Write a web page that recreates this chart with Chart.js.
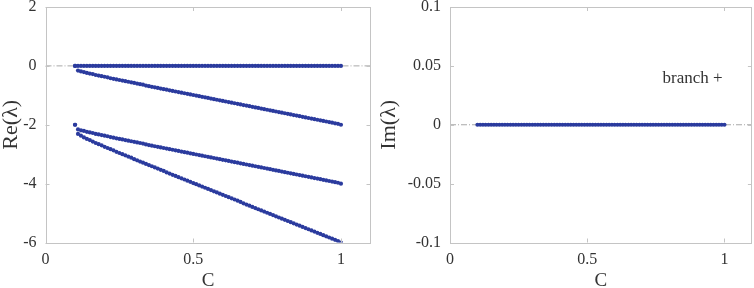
<!DOCTYPE html>
<html>
<head>
<meta charset="utf-8">
<script src="https://cdn.jsdelivr.net/npm/chart.js@4.4.1/dist/chart.umd.min.js"></script>
<style>
  html, body { margin: 0; padding: 0; background: #fff; }
  #wrap { position: relative; width: 754px; height: 288px; overflow: hidden; }
  #cLeft { position: absolute; left: 0; top: 0; }
  #cRight { position: absolute; left: 378px; top: 0; }
</style>
</head>
<body>
<div id="wrap">
  <canvas id="cLeft" width="378" height="288"></canvas>
  <canvas id="cRight" width="376" height="288"></canvas>
</div>
<script>
// ---------------- data ----------------
const C = [0.10,0.11,0.12,0.13,0.14,0.15,0.16,0.17,0.18,0.19,
           0.20,0.21,0.22,0.23,0.24,0.25,0.26,0.27,0.28,0.29,
           0.30,0.31,0.32,0.33,0.34,0.35,0.36,0.37,0.38,0.39,
           0.40,0.41,0.42,0.43,0.44,0.45,0.46,0.47,0.48,0.49,
           0.50,0.51,0.52,0.53,0.54,0.55,0.56,0.57,0.58,0.59,
           0.60,0.61,0.62,0.63,0.64,0.65,0.66,0.67,0.68,0.69,
           0.70,0.71,0.72,0.73,0.74,0.75,0.76,0.77,0.78,0.79,
           0.80,0.81,0.82,0.83,0.84,0.85,0.86,0.87,0.88,0.89,
           0.90,0.91,0.92,0.93,0.94,0.95,0.96,0.97,0.98,0.99,
           1.00];

const reBranchA = [0,0,0,0,0,0,0,0,0,0,
                   0,0,0,0,0,0,0,0,0,0,
                   0,0,0,0,0,0,0,0,0,0,
                   0,0,0,0,0,0,0,0,0,0,
                   0,0,0,0,0,0,0,0,0,0,
                   0,0,0,0,0,0,0,0,0,0,
                   0,0,0,0,0,0,0,0,0,0,
                   0,0,0,0,0,0,0,0,0,0,
                   0,0,0,0,0,0,0,0,0,0,
                   0];

const reBranchB = [0,-0.16,-0.19,-0.21,-0.24,-0.26,-0.28,-0.31,-0.33,-0.35,
                   -0.37,-0.39,-0.42,-0.44,-0.46,-0.48,-0.50,-0.52,-0.54,-0.56,
                   -0.58,-0.60,-0.62,-0.64,-0.67,-0.69,-0.71,-0.73,-0.75,-0.77,
                   -0.79,-0.81,-0.83,-0.85,-0.87,-0.89,-0.91,-0.93,-0.95,-0.97,
                   -0.99,-1.01,-1.03,-1.05,-1.07,-1.09,-1.11,-1.13,-1.15,-1.17,
                   -1.19,-1.21,-1.23,-1.25,-1.27,-1.29,-1.31,-1.33,-1.35,-1.37,
                   -1.39,-1.41,-1.43,-1.45,-1.47,-1.49,-1.51,-1.53,-1.55,-1.57,
                   -1.59,-1.61,-1.63,-1.65,-1.67,-1.69,-1.71,-1.73,-1.75,-1.77,
                   -1.79,-1.81,-1.83,-1.85,-1.87,-1.89,-1.91,-1.93,-1.95,-1.97,
                   -2.00];

const reBranchC = [-2.00,-2.16,-2.19,-2.21,-2.24,-2.26,-2.28,-2.31,-2.33,-2.35,
                   -2.37,-2.39,-2.42,-2.44,-2.46,-2.48,-2.50,-2.52,-2.54,-2.56,
                   -2.58,-2.60,-2.62,-2.64,-2.67,-2.69,-2.71,-2.73,-2.75,-2.77,
                   -2.79,-2.81,-2.83,-2.85,-2.87,-2.89,-2.91,-2.93,-2.95,-2.97,
                   -2.99,-3.01,-3.03,-3.05,-3.07,-3.09,-3.11,-3.13,-3.15,-3.17,
                   -3.19,-3.21,-3.23,-3.25,-3.27,-3.29,-3.31,-3.33,-3.35,-3.37,
                   -3.39,-3.41,-3.43,-3.45,-3.47,-3.49,-3.51,-3.53,-3.55,-3.57,
                   -3.59,-3.61,-3.63,-3.65,-3.67,-3.69,-3.71,-3.73,-3.75,-3.77,
                   -3.79,-3.81,-3.83,-3.85,-3.87,-3.89,-3.91,-3.93,-3.95,-3.97,
                   -4.00];

const reBranchD = [-2.00,-2.31,-2.37,-2.43,-2.48,-2.52,-2.57,-2.62,-2.66,-2.70,
                   -2.75,-2.79,-2.83,-2.87,-2.92,-2.96,-3.00,-3.04,-3.08,-3.12,
                   -3.17,-3.21,-3.25,-3.29,-3.33,-3.37,-3.41,-3.45,-3.49,-3.53,
                   -3.57,-3.62,-3.66,-3.70,-3.74,-3.78,-3.82,-3.86,-3.90,-3.94,
                   -3.98,-4.02,-4.06,-4.10,-4.14,-4.18,-4.22,-4.26,-4.30,-4.34,
                   -4.38,-4.42,-4.46,-4.50,-4.54,-4.58,-4.62,-4.67,-4.71,-4.75,
                   -4.79,-4.83,-4.87,-4.91,-4.95,-4.99,-5.03,-5.07,-5.11,-5.15,
                   -5.19,-5.23,-5.27,-5.31,-5.35,-5.39,-5.43,-5.47,-5.51,-5.55,
                   -5.59,-5.63,-5.67,-5.71,-5.75,-5.79,-5.83,-5.87,-5.91,-5.95,
                   -6.00];

const imBranch = [0,0,0,0,0,0,0,0,0,0,
                  0,0,0,0,0,0,0,0,0,0,
                  0,0,0,0,0,0,0,0,0,0,
                  0,0,0,0,0,0,0,0,0,0,
                  0,0,0,0,0,0,0,0,0,0,
                  0,0,0,0,0,0,0,0,0,0,
                  0,0,0,0,0,0,0,0,0,0,
                  0,0,0,0,0,0,0,0,0,0,
                  0,0,0,0,0,0,0,0,0,0,
                  0];

const xTicks = [0, 0.5, 1];
const reTicks = [-6, -4, -2, 0, 2];
const imTicks = [-0.1, -0.05, 0, 0.05, 0.1];
const zeroLineX = [0, 1.1];
const zeroLineY = [0, 0];
const annotationText = 'branch +';
const annotationPos = { x: 0.884, y: 0.039 };

// ---------------- styles ----------------
const DOT = '#2b3b9e';
const FRAME = '#c4c4c4';
const TEXT = '#333333';
const SERIF = '"Liberation Serif", "DejaVu Serif", serif';

function pts(xs, ys) { return xs.map((x, i) => ({ x: x, y: ys[i] })); }

function dotSet(ys) {
  return {
    data: pts(C, ys), showLine: false, pointRadius: 2.1, pointHoverRadius: 2.1,
    pointBackgroundColor: DOT, pointBorderColor: DOT, pointBorderWidth: 0, order: 1
  };
}
function zeroSet() {
  return {
    data: pts(zeroLineX, zeroLineY), showLine: true, pointRadius: 0,
    borderColor: '#a8a8a8', borderWidth: 1, borderDash: [6, 2, 1, 2], order: 10
  };
}

const boxPlugin = {
  id: 'box',
  afterDraw(chart) {
    const ctx = chart.ctx, a = chart.chartArea;
    const xs = chart.scales.x, ys = chart.scales.y;
    ctx.save();
    ctx.strokeStyle = FRAME; ctx.lineWidth = 1;
    ctx.strokeRect(Math.round(a.left) + 0.5, Math.round(a.top) + 0.5,
                   Math.round(a.right) - Math.round(a.left) - 1, Math.round(a.bottom) - Math.round(a.top));
    const L = 4;
    ctx.beginPath();
    xs.ticks.forEach(t => {
      const px = Math.round(xs.getPixelForValue(t.value)) + 0.5;
      ctx.moveTo(px, a.bottom); ctx.lineTo(px, a.bottom - L);
      ctx.moveTo(px, a.top); ctx.lineTo(px, a.top + L);
    });
    ys.ticks.forEach(t => {
      const py = Math.round(ys.getPixelForValue(t.value)) + 0.5;
      ctx.moveTo(a.left, py); ctx.lineTo(a.left + L, py);
      ctx.moveTo(a.right, py); ctx.lineTo(a.right - L, py);
    });
    ctx.stroke();
    const ann = chart.options.plugins.box && chart.options.plugins.box.text;
    if (ann) {
      ctx.fillStyle = TEXT;
      ctx.font = '17px ' + SERIF;
      ctx.textAlign = 'center'; ctx.textBaseline = 'middle';
      ctx.fillText(ann.label, xs.getPixelForValue(ann.x), ys.getPixelForValue(ann.y));
    }
    ctx.restore();
  }
};

function fmt(v) { return String(v); }

function makeOptions(yTicks, yMin, yMax, yTitle, yWidth, padRight, ann) {
  return {
    responsive: false, animation: false, events: [],
    layout: { padding: { top: 7, right: padRight, left: 0, bottom: 0 } },
    plugins: { legend: { display: false }, tooltip: { enabled: false }, box: { text: ann } },
    scales: {
      x: {
        type: 'linear', min: 0, max: 1.1,
        afterBuildTicks: s => { s.ticks = xTicks.map(v => ({ value: v })); },
        afterFit: s => { s.height = 45.5; s.paddingLeft = 0; s.paddingRight = 0; },
        grid: { display: false, drawTicks: false },
        border: { display: false },
        ticks: { color: TEXT, font: { family: SERIF, size: 16 }, padding: 8, callback: fmt, maxRotation: 0 },
        title: { display: true, text: 'C', color: TEXT, font: { family: SERIF, size: 19, lineHeight: 1 }, padding: { top: 0, bottom: -3 } }
      },
      y: {
        type: 'linear', min: yMin, max: yMax,
        afterBuildTicks: s => { s.ticks = yTicks.map(v => ({ value: v })); },
        afterFit: s => { s.width = yWidth; s.paddingTop = 0; s.paddingBottom = 0; },
        grid: { display: false, drawTicks: false },
        border: { display: false },
        ticks: { color: TEXT, font: { family: SERIF, size: 16 }, padding: 9, callback: fmt },
        title: { display: true, text: yTitle, color: TEXT, font: { family: SERIF, size: 22, lineHeight: 1 }, padding: { top: 0, bottom: 0 } }
      }
    }
  };
}

new Chart(document.getElementById('cLeft'), {
  type: 'scatter',
  data: { datasets: [zeroSet(), dotSet(reBranchA), dotSet(reBranchB), dotSet(reBranchC), dotSet(reBranchD)] },
  options: makeOptions(reTicks, -6, 2, 'Re(λ)', 45.5, 7.5, null),
  plugins: [boxPlugin]
});

new Chart(document.getElementById('cRight'), {
  type: 'scatter',
  data: { datasets: [zeroSet(), dotSet(imBranch)] },
  options: makeOptions(imTicks, -0.1, 0.1, 'Im(λ)', 72, 1,
    { label: annotationText, x: annotationPos.x, y: annotationPos.y }),
  plugins: [boxPlugin]
});
</script>
</body>
</html>
